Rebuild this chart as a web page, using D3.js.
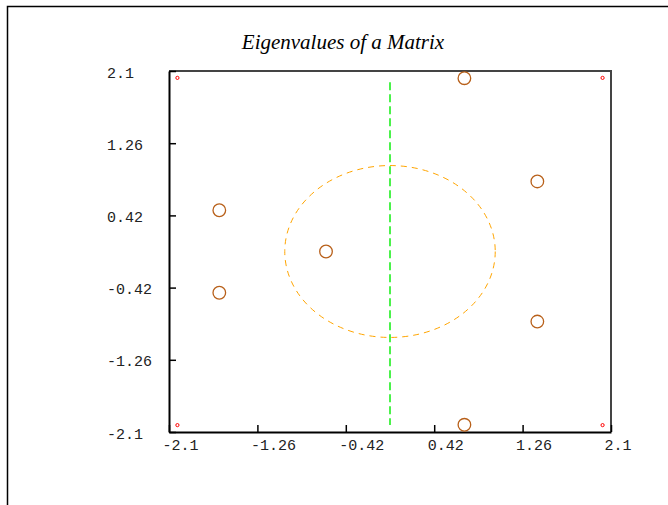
<!DOCTYPE html>
<html>
<head>
<meta charset="utf-8">
<script src="https://cdn.jsdelivr.net/npm/d3@7"></script>
<style>
  body { margin: 0; background: #fff; }
  .tick text { font-family: "Liberation Mono", monospace; font-size: 15px; fill: #222; }
</style>
</head>
<body>
<div id="chart"></div>
<script>
// eigenvalues (real, imaginary)
var eigRe = [0.707, 0.707, 1.40, 1.40, -1.622, -1.622, -0.608];
var eigIm = [2.016, -2.016, 0.815, -0.815, 0.48, -0.48, 0.0];
// small corner markers that set the range
var cornerRe = [-2.02, 2.02, -2.02, 2.02];
var cornerIm = [2.02, 2.02, -2.02, -2.02];
var tickVals = [-2.1, -1.26, -0.42, 0.42, 1.26, 2.1];
var title = "Eigenvalues of a Matrix";

var W = 668, H = 505;
var margin = { top: 71, right: 57, bottom: 73, left: 169 },
    width = W - margin.left - margin.right,
    height = H - margin.top - margin.bottom;

var svg = d3.select("#chart").append("svg")
    .attr("width", W)
    .attr("height", H);

// outer frame (runs off the window on right and bottom)
svg.append("path")
    .attr("d", "M7.5," + H + " V6.5 H" + W)
    .attr("fill", "none")
    .attr("stroke", "#000")
    .attr("stroke-width", 1.5);

svg.append("text")
    .attr("x", 343)
    .attr("y", 49)
    .attr("text-anchor", "middle")
    .style("font-family", "'Liberation Serif', serif")
    .style("font-style", "italic")
    .style("font-size", "21px")
    .text(title);

var g = svg.append("g")
    .attr("transform", "translate(" + margin.left + "," + margin.top + ")");

var x = d3.scaleLinear().domain([-2.1, 2.1]).range([0, width]);
var y = d3.scaleLinear().domain([-2.1, 2.1]).range([height, 0]);

// top and right edges of the box
g.append("path")
    .attr("d", "M0,0 H" + width + " V" + height)
    .attr("fill", "none")
    .attr("stroke", "#444")
    .attr("stroke-width", 2);

// x axis
var xAxis = g.append("g")
    .attr("transform", "translate(0," + height + ")")
    .call(d3.axisBottom(x).tickValues(tickVals).tickSizeInner(-7).tickSizeOuter(0)
        .tickFormat(function(d) { return String(d); }));
xAxis.select(".domain").attr("stroke", "#000").attr("stroke-width", 2);
xAxis.selectAll(".tick line").attr("stroke", "#000").attr("stroke-width", 1.5);
xAxis.selectAll(".tick text")
    .attr("text-anchor", "start")
    .attr("x", -7)
    .attr("y", 7)
    .attr("dy", "0.71em");

// y axis
var yAxis = g.append("g")
    .call(d3.axisLeft(y).tickValues(tickVals).tickSizeInner(-7).tickSizeOuter(0)
        .tickFormat(function(d) { return String(d); }));
yAxis.select(".domain").attr("stroke", "#000").attr("stroke-width", 2);
yAxis.selectAll(".tick line").attr("stroke", "#000").attr("stroke-width", 1.5);
yAxis.selectAll(".tick text")
    .attr("text-anchor", "start")
    .attr("x", -62)
    .attr("dy", "0.4em");

// unit circle
g.append("ellipse")
    .attr("cx", x(0))
    .attr("cy", y(0))
    .attr("rx", x(1) - x(0))
    .attr("ry", y(0) - y(1))
    .attr("fill", "none")
    .attr("stroke", "#ffa500")
    .attr("stroke-width", 1)
    .attr("stroke-dasharray", "6,5");

// imaginary axis
g.append("line")
    .attr("x1", x(0)).attr("x2", x(0))
    .attr("y1", y(1.97)).attr("y2", y(-2.02))
    .attr("stroke", "#11ee11")
    .attr("stroke-width", 1.5)
    .attr("stroke-dasharray", "8,4");

// corner markers
g.selectAll(".corner")
    .data(cornerRe)
    .enter().append("circle")
    .attr("class", "corner")
    .attr("cx", function(d) { return x(d); })
    .attr("cy", function(d, i) { return y(cornerIm[i]); })
    .attr("r", 1.6)
    .attr("fill", "none")
    .attr("stroke", "red")
    .attr("stroke-width", 1);

// eigenvalues
g.selectAll(".eig")
    .data(eigRe)
    .enter().append("circle")
    .attr("class", "eig")
    .attr("cx", function(d) { return x(d); })
    .attr("cy", function(d, i) { return y(eigIm[i]); })
    .attr("r", 6.3)
    .attr("fill", "none")
    .attr("stroke", "#b8601a")
    .attr("stroke-width", 1.3);
</script>
</body>
</html>
